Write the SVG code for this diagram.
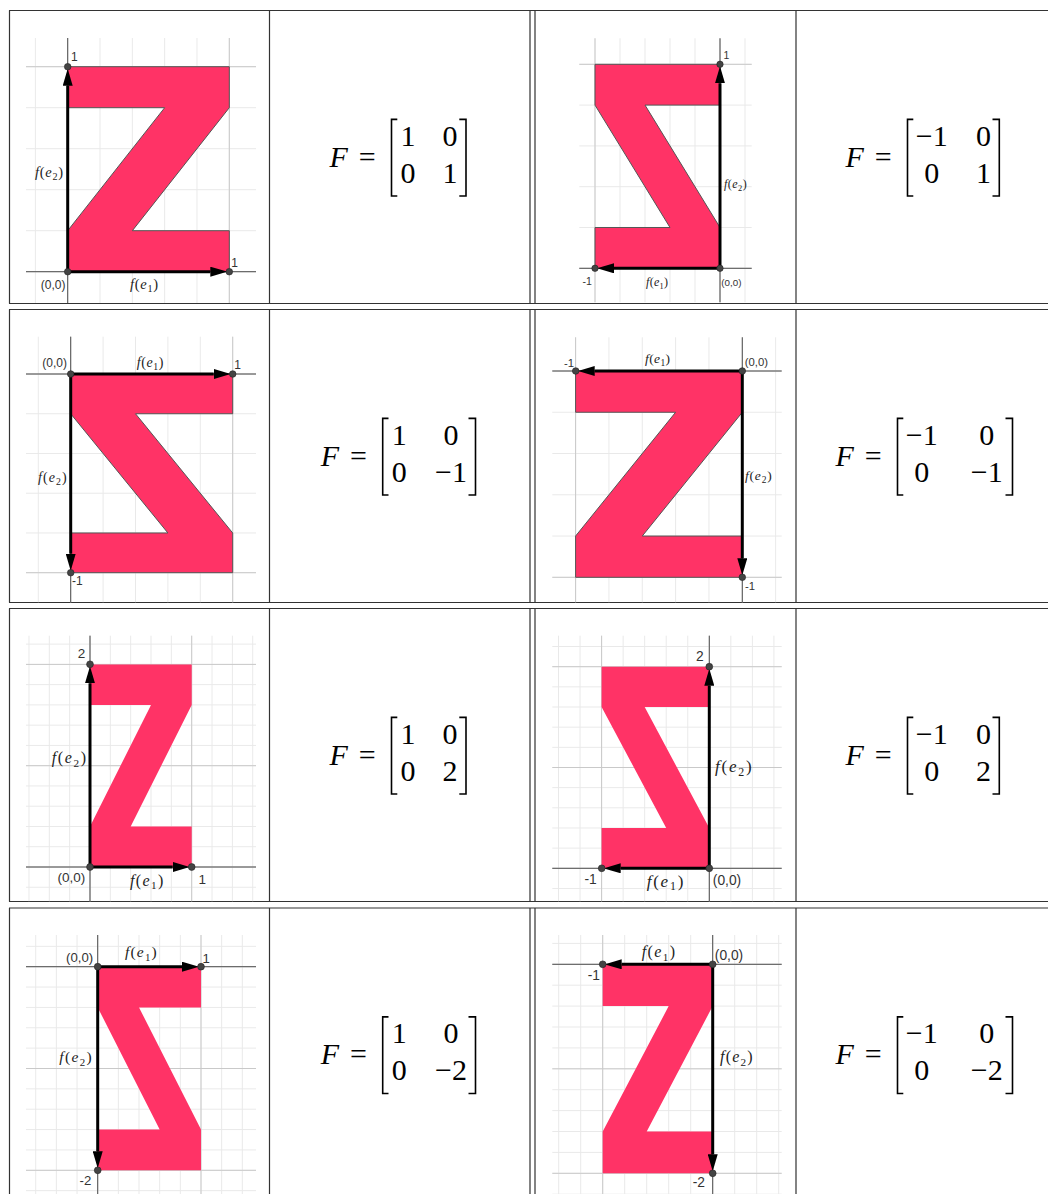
<svg xmlns="http://www.w3.org/2000/svg" xmlns:xlink="http://www.w3.org/1999/xlink" width="1048" height="1194" viewBox="0 0 1048 1194">
<style>
.tb{stroke:#333;stroke-width:1.2;fill:none}
.gm{stroke:#e9e9e9;stroke-width:1;fill:none}
.gM{stroke:#c9c9c9;stroke-width:1;fill:none}
.ax{stroke:#555;stroke-width:1}
.z{fill:#ff3366}
.zo{stroke:#555;stroke-width:1}
.v{stroke:#000;stroke-width:3;marker-end:url(#ah)}
.pt{fill:#444;stroke:#222;stroke-width:0.6}
.n{font-family:"Liberation Sans",Arial,sans-serif;fill:#333}
.fe{font-family:"Liberation Serif","Times New Roman",serif;fill:#222}
.i{font-style:italic}
.m{font-family:"Liberation Serif","Times New Roman",serif;font-size:30px;fill:#000}
.mc{text-anchor:middle}
.br{stroke:#000;stroke-width:1.6;fill:none}
</style>
<defs>
<marker id="ah" markerUnits="userSpaceOnUse" markerWidth="17" markerHeight="10" viewBox="0 -5 17 10" refX="0" refY="0" orient="auto"><path d="M0,-5L17,0L0,5Z" fill="#000"/></marker>
<polygon id="zs" points="0,0 1,0 1,0.2 0.4,0.2 1,0.8 1,1 0,1 0,0.8 0.6,0.8 0,0.2" vector-effect="non-scaling-stroke"/>
<pattern id="m1" patternUnits="userSpaceOnUse" x="67.2" y="271.2" width="32.32" height="41"><path class="gm" d="M0.5,0V41M0,0.5H32.32"/></pattern>
<pattern id="M1" patternUnits="userSpaceOnUse" x="67.2" y="271.2" width="161.6" height="205"><path class="gM" d="M0.5,0V205M0,0.5H161.6"/></pattern>
<pattern id="m2" patternUnits="userSpaceOnUse" x="719.5" y="267.8" width="25" height="40.8"><path class="gm" d="M0.5,0V40.8M0,0.5H25"/></pattern>
<pattern id="M2" patternUnits="userSpaceOnUse" x="719.5" y="267.8" width="125" height="204"><path class="gM" d="M0.5,0V204M0,0.5H125"/></pattern>
<pattern id="m3" patternUnits="userSpaceOnUse" x="70.2" y="373.5" width="32.4" height="39.74"><path class="gm" d="M0.5,0V39.74M0,0.5H32.4"/></pattern>
<pattern id="M3" patternUnits="userSpaceOnUse" x="70.2" y="373.5" width="162" height="198.7"><path class="gM" d="M0.5,0V198.7M0,0.5H162"/></pattern>
<pattern id="m4" patternUnits="userSpaceOnUse" x="741.8" y="370.5" width="33.34" height="41.26"><path class="gm" d="M0.5,0V41.26M0,0.5H33.34"/></pattern>
<pattern id="M4" patternUnits="userSpaceOnUse" x="741.8" y="370.5" width="166.7" height="206.3"><path class="gM" d="M0.5,0V206.3M0,0.5H166.7"/></pattern>
<pattern id="m5" patternUnits="userSpaceOnUse" x="89.5" y="866.5" width="20.34" height="20.26"><path class="gm" d="M0.5,0V20.26M0,0.5H20.34"/></pattern>
<pattern id="M5" patternUnits="userSpaceOnUse" x="89.5" y="866.5" width="101.7" height="101.3"><path class="gM" d="M0.5,0V101.3M0,0.5H101.7"/></pattern>
<pattern id="m6" patternUnits="userSpaceOnUse" x="708.8" y="867.8" width="21.54" height="20.16"><path class="gm" d="M0.5,0V20.16M0,0.5H21.54"/></pattern>
<pattern id="M6" patternUnits="userSpaceOnUse" x="708.8" y="867.8" width="107.7" height="100.8"><path class="gM" d="M0.5,0V100.8M0,0.5H107.7"/></pattern>
<pattern id="m7" patternUnits="userSpaceOnUse" x="97.2" y="966.2" width="20.66" height="20.36"><path class="gm" d="M0.5,0V20.36M0,0.5H20.66"/></pattern>
<pattern id="M7" patternUnits="userSpaceOnUse" x="97.2" y="966.2" width="103.3" height="101.8"><path class="gM" d="M0.5,0V101.8M0,0.5H103.3"/></pattern>
<pattern id="m8" patternUnits="userSpaceOnUse" x="712.2" y="963.8" width="22" height="20.9"><path class="gm" d="M0.5,0V20.9M0,0.5H22"/></pattern>
<pattern id="M8" patternUnits="userSpaceOnUse" x="712.2" y="963.8" width="110" height="104.5"><path class="gM" d="M0.5,0V104.5M0,0.5H110"/></pattern>
</defs>
<rect width="1048" height="1194" fill="#fff"/>

<g id="table">
<path class="tb" d="M9,10.5H1048M9,303.5H1048M9,309.5H1048M9,602.5H1048M9,608.5H1048M9,901.5H1048M9,908H1048"/>
<path class="tb" d="M9.5,10.5V303.5M269.5,10.5V303.5M530,10.5V303.5M535,10.5V303.5M796,10.5V303.5
M9.5,309.5V602.5M269.5,309.5V602.5M530,309.5V602.5M535,309.5V602.5M796,309.5V602.5
M9.5,608.5V901.5M269.5,608.5V901.5M530,608.5V901.5M535,608.5V901.5M796,608.5V901.5
M9.5,908V1194M269.5,908V1194M530,908V1194M535,908V1194M796,908V1194"/>
</g>

<!-- Row 1, col 1 -->
<g id="plot-r1c1">
<rect x="26" y="38" width="230" height="265" fill="url(#m1)"/>
<rect x="26" y="38" width="230" height="265" fill="url(#M1)"/>
<path class="ax" d="M26,271.7H256M67.7,38V303"/>
<use href="#zs" class="z zo" transform="matrix(161.6 0 0 -205 67.7 271.7)"/>
<line class="v" x1="67.7" y1="271.7" x2="210.3" y2="271.7"/>
<line class="v" x1="67.7" y1="271.7" x2="67.7" y2="85.7"/>
<circle class="pt" cx="67.7" cy="271.7" r="3.3"/><circle class="pt" cx="229.3" cy="271.7" r="3.3"/><circle class="pt" cx="67.7" cy="66.7" r="3.3"/>
<text class="n" x="71" y="61.3" font-size="12">1</text>
<text class="n" x="231.3" y="266.8" font-size="12">1</text>
<text class="n" x="40.8" y="288.8" font-size="12">(0,0)</text>
<text class="fe" x="35" y="176.7" font-size="14.5" textLength="28" lengthAdjust="spacing"><tspan class="i">f</tspan>(<tspan class="i">e</tspan><tspan font-size="10.2" dy="3.2">2</tspan><tspan dy="-3.2">)</tspan></text>
<text class="fe" x="130" y="288.7" font-size="14.5" textLength="28" lengthAdjust="spacing"><tspan class="i">f</tspan>(<tspan class="i">e</tspan><tspan font-size="10.2" dy="3.2">1</tspan><tspan dy="-3.2">)</tspan></text>
</g>

<!-- Row 1, col 3 -->
<g id="plot-r1c3">
<rect x="579.3" y="38.3" width="172.4" height="264" fill="url(#m2)"/>
<rect x="579.3" y="38.3" width="172.4" height="264" fill="url(#M2)"/>
<path class="ax" d="M579.3,268.3H751.7M720,38.3V302.3"/>
<use href="#zs" class="z zo" transform="matrix(-125 0 0 -204 720 268.3)"/>
<line class="v" x1="720" y1="268.3" x2="614" y2="268.3"/>
<line class="v" x1="720" y1="268.3" x2="720" y2="83.3"/>
<circle class="pt" cx="720" cy="268.3" r="3.2"/><circle class="pt" cx="595" cy="268.3" r="3.2"/><circle class="pt" cx="720" cy="64.3" r="3.2"/>
<text class="n" x="723.5" y="59" font-size="10.5">1</text>
<text class="n" x="582.5" y="285.3" font-size="10.5">-1</text>
<text class="n" x="721.3" y="286" font-size="9.8">(0,0)</text>
<text class="fe" x="646" y="286.1" font-size="12" textLength="22" lengthAdjust="spacing"><tspan class="i">f</tspan>(<tspan class="i">e</tspan><tspan font-size="8.4" dy="2.6">1</tspan><tspan dy="-2.6">)</tspan></text>
<text class="fe" x="724" y="188" font-size="12" textLength="22.7" lengthAdjust="spacing"><tspan class="i">f</tspan>(<tspan class="i">e</tspan><tspan font-size="8.4" dy="2.6">2</tspan><tspan dy="-2.6">)</tspan></text>
</g>

<!-- Row 2, col 1 -->
<g id="plot-r2c1">
<rect x="26" y="336.7" width="230" height="265.5" fill="url(#m3)"/>
<rect x="26" y="336.7" width="230" height="265.5" fill="url(#M3)"/>
<path class="ax" d="M26,374H256M70.7,336.7V602.2"/>
<use href="#zs" class="z zo" transform="matrix(162 0 0 198.7 70.7 374)"/>
<line class="v" x1="70.7" y1="374" x2="213.7" y2="374"/>
<line class="v" x1="70.7" y1="374" x2="70.7" y2="553.7"/>
<circle class="pt" cx="70.7" cy="374" r="3.3"/><circle class="pt" cx="232.7" cy="374" r="3.3"/><circle class="pt" cx="70.7" cy="572.7" r="3.3"/>
<text class="n" x="42.3" y="366.6" font-size="12">(0,0)</text>
<text class="n" x="234.3" y="369.4" font-size="12">1</text>
<text class="n" x="72" y="585.1" font-size="12">-1</text>
<text class="fe" x="136.7" y="366.6" font-size="14" textLength="26.6" lengthAdjust="spacing"><tspan class="i">f</tspan>(<tspan class="i">e</tspan><tspan font-size="9.8" dy="3.1">1</tspan><tspan dy="-3.1">)</tspan></text>
<text class="fe" x="38" y="481.6" font-size="14" textLength="28.7" lengthAdjust="spacing"><tspan class="i">f</tspan>(<tspan class="i">e</tspan><tspan font-size="9.8" dy="3.1">2</tspan><tspan dy="-3.1">)</tspan></text>
</g>

<!-- Row 2, col 3 -->
<g id="plot-r2c3">
<rect x="552.3" y="337.3" width="229.4" height="264.9" fill="url(#m4)"/>
<rect x="552.3" y="337.3" width="229.4" height="264.9" fill="url(#M4)"/>
<path class="ax" d="M552.3,371H781.7M742.3,337.3V602.2"/>
<use href="#zs" class="z zo" transform="matrix(-166.7 0 0 206.3 742.3 371)"/>
<line class="v" x1="742.3" y1="371" x2="594.7" y2="371"/>
<line class="v" x1="742.3" y1="371" x2="742.3" y2="558.3"/>
<circle class="pt" cx="742.3" cy="371" r="3.3"/><circle class="pt" cx="575.7" cy="371" r="3.3"/><circle class="pt" cx="742.3" cy="577.3" r="3.3"/>
<text class="n" x="564" y="367.4" font-size="11.3">-1</text>
<text class="n" x="744.8" y="365.7" font-size="11.3">(0,0)</text>
<text class="n" x="745" y="589.8" font-size="11.3">-1</text>
<text class="fe" x="645" y="362.7" font-size="13.5" textLength="25" lengthAdjust="spacing"><tspan class="i">f</tspan>(<tspan class="i">e</tspan><tspan font-size="9.5" dy="3">1</tspan><tspan dy="-3">)</tspan></text>
<text class="fe" x="745" y="480" font-size="13.5" textLength="26.7" lengthAdjust="spacing"><tspan class="i">f</tspan>(<tspan class="i">e</tspan><tspan font-size="9.5" dy="3">2</tspan><tspan dy="-3">)</tspan></text>
</g>

<!-- Row 3, col 1 -->
<g id="plot-r3c1">
<rect x="26" y="635.7" width="230" height="265.5" fill="url(#m5)"/>
<rect x="26" y="635.7" width="230" height="265.5" fill="url(#M5)"/>
<path class="ax" d="M26,867H256M90,635.7V901.2"/>
<use href="#zs" class="z" transform="matrix(101.7 0 0 -202.6 90 867)"/>
<line class="v" x1="90" y1="867" x2="172.7" y2="867"/>
<line class="v" x1="90" y1="867" x2="90" y2="683.3"/>
<circle class="pt" cx="90" cy="867" r="3.4"/><circle class="pt" cx="191.7" cy="867" r="3.4"/><circle class="pt" cx="90" cy="664.3" r="3.4"/>
<text class="n" x="77.7" y="658.2" font-size="13.5">2</text>
<text class="n" x="57.5" y="881.9" font-size="13.5">(0,0)</text>
<text class="n" x="198.5" y="883.9" font-size="13.5">1</text>
<text class="fe" x="51.7" y="763.1" font-size="16" textLength="34.3" lengthAdjust="spacing"><tspan class="i">f</tspan>(<tspan class="i">e</tspan><tspan font-size="11.2" dy="3.5">2</tspan><tspan dy="-3.5">)</tspan></text>
<text class="fe" x="130" y="885.8" font-size="16" textLength="33.3" lengthAdjust="spacing"><tspan class="i">f</tspan>(<tspan class="i">e</tspan><tspan font-size="11.2" dy="3.5">1</tspan><tspan dy="-3.5">)</tspan></text>
</g>

<!-- Row 3, col 3 -->
<g id="plot-r3c3">
<rect x="552.3" y="635.7" width="229.4" height="265.5" fill="url(#m6)"/>
<rect x="552.3" y="635.7" width="229.4" height="265.5" fill="url(#M6)"/>
<path class="ax" d="M552.3,868.3H781.7M709.3,635.7V901.2"/>
<use href="#zs" class="z" transform="matrix(-107.7 0 0 -201.6 709.3 868.3)"/>
<line class="v" x1="709.3" y1="868.3" x2="620.7" y2="868.3"/>
<line class="v" x1="709.3" y1="868.3" x2="709.3" y2="685.7"/>
<circle class="pt" cx="709.3" cy="868.3" r="3.4"/><circle class="pt" cx="601.7" cy="868.3" r="3.4"/><circle class="pt" cx="709.3" cy="666.7" r="3.4"/>
<text class="n" x="696" y="660.6" font-size="13.8">2</text>
<text class="n" x="584.5" y="883.9" font-size="13.8">-1</text>
<text class="n" x="712.8" y="885.3" font-size="13.8">(0,0)</text>
<text class="fe" x="715" y="772" font-size="17" textLength="36.7" lengthAdjust="spacing"><tspan class="i">f</tspan>(<tspan class="i">e</tspan><tspan font-size="11.9" dy="3.7">2</tspan><tspan dy="-3.7">)</tspan></text>
<text class="fe" x="646.7" y="886.6" font-size="17" textLength="36.6" lengthAdjust="spacing"><tspan class="i">f</tspan>(<tspan class="i">e</tspan><tspan font-size="11.9" dy="3.7">1</tspan><tspan dy="-3.7">)</tspan></text>
</g>

<!-- Row 4, col 1 -->
<g id="plot-r4c1">
<rect x="26" y="935" width="230" height="259" fill="url(#m7)"/>
<rect x="26" y="935" width="230" height="259" fill="url(#M7)"/>
<path class="ax" d="M26,966.7H256M97.7,935V1194"/>
<use href="#zs" class="z" transform="matrix(103.3 0 0 203.6 97.7 966.7)"/>
<line class="v" x1="97.7" y1="966.7" x2="182" y2="966.7"/>
<line class="v" x1="97.7" y1="966.7" x2="97.7" y2="1151.3"/>
<circle class="pt" cx="97.7" cy="966.7" r="3.4"/><circle class="pt" cx="201" cy="966.7" r="3.4"/><circle class="pt" cx="97.7" cy="1170.3" r="3.4"/>
<text class="n" x="66" y="961.8" font-size="13.2">(0,0)</text>
<text class="n" x="202.5" y="963.2" font-size="13.2">1</text>
<text class="n" x="79.5" y="1184.9" font-size="13.2">-2</text>
<text class="fe" x="125" y="957.3" font-size="15.5" textLength="31.7" lengthAdjust="spacing"><tspan class="i">f</tspan>(<tspan class="i">e</tspan><tspan font-size="10.9" dy="3.4">1</tspan><tspan dy="-3.4">)</tspan></text>
<text class="fe" x="59.3" y="1062.3" font-size="15.5" textLength="32.4" lengthAdjust="spacing"><tspan class="i">f</tspan>(<tspan class="i">e</tspan><tspan font-size="10.9" dy="3.4">2</tspan><tspan dy="-3.4">)</tspan></text>
</g>

<!-- Row 4, col 3 -->
<g id="plot-r4c3">
<rect x="552.3" y="935" width="229.4" height="259" fill="url(#m8)"/>
<rect x="552.3" y="935" width="229.4" height="259" fill="url(#M8)"/>
<path class="ax" d="M552.3,964.3H781.7M712.7,935V1194"/>
<use href="#zs" class="z" transform="matrix(-110 0 0 209 712.7 964.3)"/>
<line class="v" x1="712.7" y1="964.3" x2="621.7" y2="964.3"/>
<line class="v" x1="712.7" y1="964.3" x2="712.7" y2="1154.3"/>
<circle class="pt" cx="712.7" cy="964.3" r="3.4"/><circle class="pt" cx="602.7" cy="964.3" r="3.4"/><circle class="pt" cx="712.7" cy="1173.3" r="3.4"/>
<text class="n" x="714.8" y="960.2" font-size="13.8">(0,0)</text>
<text class="n" x="587.7" y="979.9" font-size="13.8">-1</text>
<text class="n" x="692.7" y="1187.2" font-size="13.8">-2</text>
<text class="fe" x="641.7" y="957.4" font-size="16" textLength="33.3" lengthAdjust="spacing"><tspan class="i">f</tspan>(<tspan class="i">e</tspan><tspan font-size="11.2" dy="3.5">1</tspan><tspan dy="-3.5">)</tspan></text>
<text class="fe" x="720" y="1062.4" font-size="16" textLength="32.7" lengthAdjust="spacing"><tspan class="i">f</tspan>(<tspan class="i">e</tspan><tspan font-size="11.2" dy="3.5">2</tspan><tspan dy="-3.5">)</tspan></text>
</g>

<!-- Matrices -->
<g id="matrix-r1c2">
<text class="m i" x="329.5" y="166.7">F</text><text class="m mc" x="367.3" y="166.7">=</text>
<path class="br" d="M397.3,119.4H391.5V196H397.3M459.3,119.4H466V196H459.3"/>
<text class="m mc" x="408" y="145.5">1</text><text class="m mc" x="450" y="145.5">0</text>
<text class="m mc" x="408" y="182.9">0</text><text class="m mc" x="450" y="182.9">1</text>
</g>
<g id="matrix-r1c4">
<text class="m i" x="845.5" y="166.7">F</text><text class="m mc" x="883.3" y="166.7">=</text>
<path class="br" d="M913.3,119.4H907.5V196H913.3M992.5,119.4H999.3V196H992.5"/>
<text class="m mc" x="931.7" y="145.5">−1</text><text class="m mc" x="983.5" y="145.5">0</text>
<text class="m mc" x="931.7" y="182.9">0</text><text class="m mc" x="983.5" y="182.9">1</text>
</g>
<g id="matrix-r2c2">
<text class="m i" x="320.7" y="465.7">F</text><text class="m mc" x="358.5" y="465.7">=</text>
<path class="br" d="M388.5,418.4H382.7V495H388.5M468.5,418.4H475.5V495H468.5"/>
<text class="m mc" x="399.2" y="444.5">1</text><text class="m mc" x="451" y="444.5">0</text>
<text class="m mc" x="399.2" y="481.9">0</text><text class="m mc" x="451" y="481.9">−1</text>
</g>
<g id="matrix-r2c4">
<text class="m i" x="835.5" y="465.7">F</text><text class="m mc" x="873.3" y="465.7">=</text>
<path class="br" d="M903.3,418.4H897.5V495H903.3M1005.5,418.4H1012.5V495H1005.5"/>
<text class="m mc" x="921.7" y="444.5">−1</text><text class="m mc" x="986.7" y="444.5">0</text>
<text class="m mc" x="921.7" y="481.9">0</text><text class="m mc" x="986.7" y="481.9">−1</text>
</g>
<g id="matrix-r3c2">
<text class="m i" x="329.5" y="764.7">F</text><text class="m mc" x="367.3" y="764.7">=</text>
<path class="br" d="M397.3,717.4H391.5V794H397.3M459.3,717.4H466V794H459.3"/>
<text class="m mc" x="408" y="743.5">1</text><text class="m mc" x="450" y="743.5">0</text>
<text class="m mc" x="408" y="780.9">0</text><text class="m mc" x="450" y="780.9">2</text>
</g>
<g id="matrix-r3c4">
<text class="m i" x="845.5" y="764.7">F</text><text class="m mc" x="883.3" y="764.7">=</text>
<path class="br" d="M913.3,717.4H907.5V794H913.3M992.5,717.4H999.3V794H992.5"/>
<text class="m mc" x="931.7" y="743.5">−1</text><text class="m mc" x="983.5" y="743.5">0</text>
<text class="m mc" x="931.7" y="780.9">0</text><text class="m mc" x="983.5" y="780.9">2</text>
</g>
<g id="matrix-r4c2">
<text class="m i" x="320.7" y="1064.2">F</text><text class="m mc" x="358.5" y="1064.2">=</text>
<path class="br" d="M388.5,1016.9H382.7V1093.5H388.5M468.5,1016.9H475.5V1093.5H468.5"/>
<text class="m mc" x="399.2" y="1043">1</text><text class="m mc" x="451" y="1043">0</text>
<text class="m mc" x="399.2" y="1080.4">0</text><text class="m mc" x="451" y="1080.4">−2</text>
</g>
<g id="matrix-r4c4">
<text class="m i" x="835.5" y="1064.2">F</text><text class="m mc" x="873.3" y="1064.2">=</text>
<path class="br" d="M903.3,1016.9H897.5V1093.5H903.3M1005.5,1016.9H1012.5V1093.5H1005.5"/>
<text class="m mc" x="921.7" y="1043">−1</text><text class="m mc" x="986.7" y="1043">0</text>
<text class="m mc" x="921.7" y="1080.4">0</text><text class="m mc" x="986.7" y="1080.4">−2</text>
</g>
</svg>
